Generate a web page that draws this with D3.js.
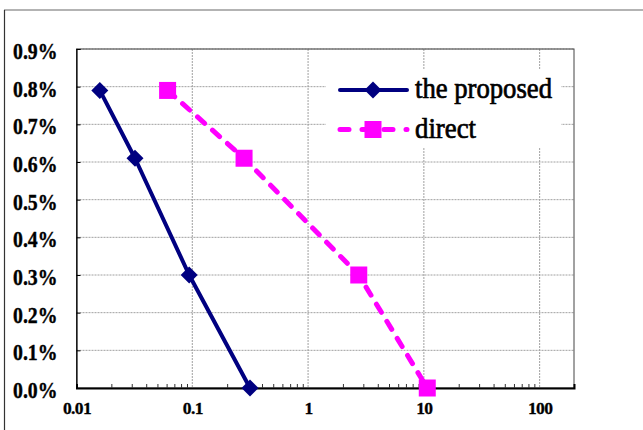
<!DOCTYPE html>
<html><head><meta charset="utf-8">
<script src="https://cdn.jsdelivr.net/npm/d3@7"></script>
<style>body{margin:0;background:#fff}svg{display:block}</style>
</head><body>
<script>
const seriesNames = ["the proposed", "direct"];
const proposedX = [0.0159, 0.032, 0.094, 0.315];
const proposedY = [0.0079, 0.0061, 0.0030, 0.0000];
const directX = [0.0612, 0.28, 2.74, 10.7];
const directY = [0.0079, 0.0061, 0.0030, 0.0000];
const xTicks = [0.01, 0.1, 1, 10, 100];
const xTickLabels = ["0.01", "0.1", "1", "10", "100"];
const yTicks = [0, 0.001, 0.002, 0.003, 0.004, 0.005, 0.006, 0.007, 0.008, 0.009];

const W = 643, H = 430;
const FONT = "'Liberation Serif', 'Times New Roman', serif";
const svg = d3.select("body").append("svg").attr("width", W).attr("height", H);
svg.append("rect").attr("width", W).attr("height", H).attr("fill", "#fff");

// outer frame
svg.append("line").attr("x1", 4).attr("x2", W).attr("y1", 10).attr("y2", 10).attr("stroke", "#9a9a9a").attr("stroke-width", 1.5);
svg.append("line").attr("x1", 4.5).attr("x2", 4.5).attr("y1", 10).attr("y2", H).attr("stroke", "#333").attr("stroke-width", 1.2);

const L = 76.5, R = 574, T = 49, B = 388;
const x = d3.scaleLog().domain([0.01, 198]).range([L, R]);
const y = d3.scaleLinear().domain([0, 0.009]).range([B, T]);

const grid = svg.append("g");
yTicks.filter(v => v > 0).forEach(v => {
  grid.append("line").attr("x1", L).attr("x2", R).attr("y1", y(v)).attr("y2", y(v))
    .attr("stroke", "#a0a0a0").attr("stroke-width", 1).attr("stroke-dasharray", "2,1");
});
xTicks.filter(v => v > 0.01).forEach(v => {
  grid.append("line").attr("x1", x(v)).attr("x2", x(v)).attr("y1", T).attr("y2", B)
    .attr("stroke", "#a0a0a0").attr("stroke-width", 1).attr("stroke-dasharray", "2,1");
});

// plot frame
svg.append("rect").attr("x", L).attr("y", T).attr("width", R - L).attr("height", B - T)
  .attr("fill", "none").attr("stroke", "#444").attr("stroke-width", 1);

// y axis (ticks inward)
const yAxis = d3.axisLeft(y).tickValues(yTicks).tickSize(-4).tickFormat(d3.format(".1%"));
const gy = svg.append("g").attr("transform", `translate(${L},0)`).call(yAxis);
gy.select(".domain").attr("stroke", "#000").attr("stroke-width", 1.2);
gy.selectAll(".tick line").attr("stroke", "#000");
gy.selectAll(".tick text").attr("x", -19).attr("dy", "0.4em")
  .attr("font-family", FONT).attr("font-weight", "bold")
  .attr("font-size", 23.5).attr("textLength", 44.5).attr("lengthAdjust", "spacingAndGlyphs")
  .attr("fill", "#000").attr("stroke", "#000").attr("stroke-width", 0.4);

// x axis minor ticks inward
const minor = [];
for (let e = -2; e <= 2; e++) for (let m = 2; m <= 9; m++) { const v = m * Math.pow(10, e); if (v < 198) minor.push(v); }
const xAxis = d3.axisBottom(x).tickValues(minor).tickSize(-4).tickFormat("");
const gx = svg.append("g").attr("transform", `translate(0,${B})`).call(xAxis);
gx.select(".domain").attr("stroke", "#000").attr("stroke-width", 2);
gx.selectAll(".tick line").attr("stroke", "#333");
const xLab = d3.axisBottom(x).tickValues(xTicks).tickSize(0).tickFormat((d, i) => xTickLabels[i]);
const gxl = svg.append("g").attr("transform", `translate(0,${B})`).call(xLab);
gxl.select(".domain").remove();
gxl.selectAll(".tick text").attr("y", 14).attr("dy", "0.71em")
  .attr("font-family", FONT).attr("font-weight", "bold")
  .attr("font-size", 17.5).attr("letter-spacing", -0.6).attr("fill", "#000")
  .attr("stroke", "#000").attr("stroke-width", 0.3);

const line = d3.line().x(d => x(d[0])).y(d => y(d[1]));
const pData = proposedX.map((v, i) => [v, proposedY[i]]);
const dData = directX.map((v, i) => [v, directY[i]]);

const navy = "#000080", mag = "#ff00ff";
const diamond = (g, cx, cy) => g.append("path")
  .attr("d", `M${cx},${cy - 8.5}L${cx + 8.5},${cy}L${cx},${cy + 8.5}L${cx - 8.5},${cy}Z`).attr("fill", navy);
const square = (g, cx, cy) => g.append("rect").attr("x", cx - 8.5).attr("y", cy - 8.5)
  .attr("width", 17).attr("height", 17).attr("fill", mag);

const plot = svg.append("g");
plot.append("path").datum(dData).attr("d", line).attr("fill", "none").attr("stroke", mag)
  .attr("stroke-width", 5).attr("stroke-dasharray", "9.5,10.5").attr("stroke-linecap", "round");
dData.forEach(d => square(plot, x(d[0]), y(d[1])));
plot.append("path").datum(pData).attr("d", line).attr("fill", "none").attr("stroke", navy)
  .attr("stroke-width", 4).attr("stroke-linejoin", "round");
pData.forEach(d => diamond(plot, x(d[0]), y(d[1])));

// legend
const legendLen = [137, 61];
const lg = svg.append("g");
lg.append("rect").attr("x", 326).attr("y", 70).attr("width", 235).attr("height", 78).attr("fill", "#fff");
lg.append("line").attr("x1", 340).attr("x2", 407).attr("y1", 90).attr("y2", 90)
  .attr("stroke", navy).attr("stroke-width", 4).attr("stroke-linecap", "round");
diamond(lg, 373, 90);
lg.append("line").attr("x1", 340).attr("x2", 407).attr("y1", 129.5).attr("y2", 129.5)
  .attr("stroke", mag).attr("stroke-width", 5).attr("stroke-dasharray", "9,13").attr("stroke-linecap", "round");
square(lg, 373, 129.5);
seriesNames.forEach((n, i) => {
  lg.append("text").attr("x", 415).attr("y", i === 0 ? 98 : 138).text(n)
    .attr("font-family", FONT).attr("font-size", 29)
    .attr("textLength", legendLen[i]).attr("lengthAdjust", "spacingAndGlyphs")
    .attr("fill", "#000").attr("stroke", "#000").attr("stroke-width", 0.7);
});
</script>
</body></html>
